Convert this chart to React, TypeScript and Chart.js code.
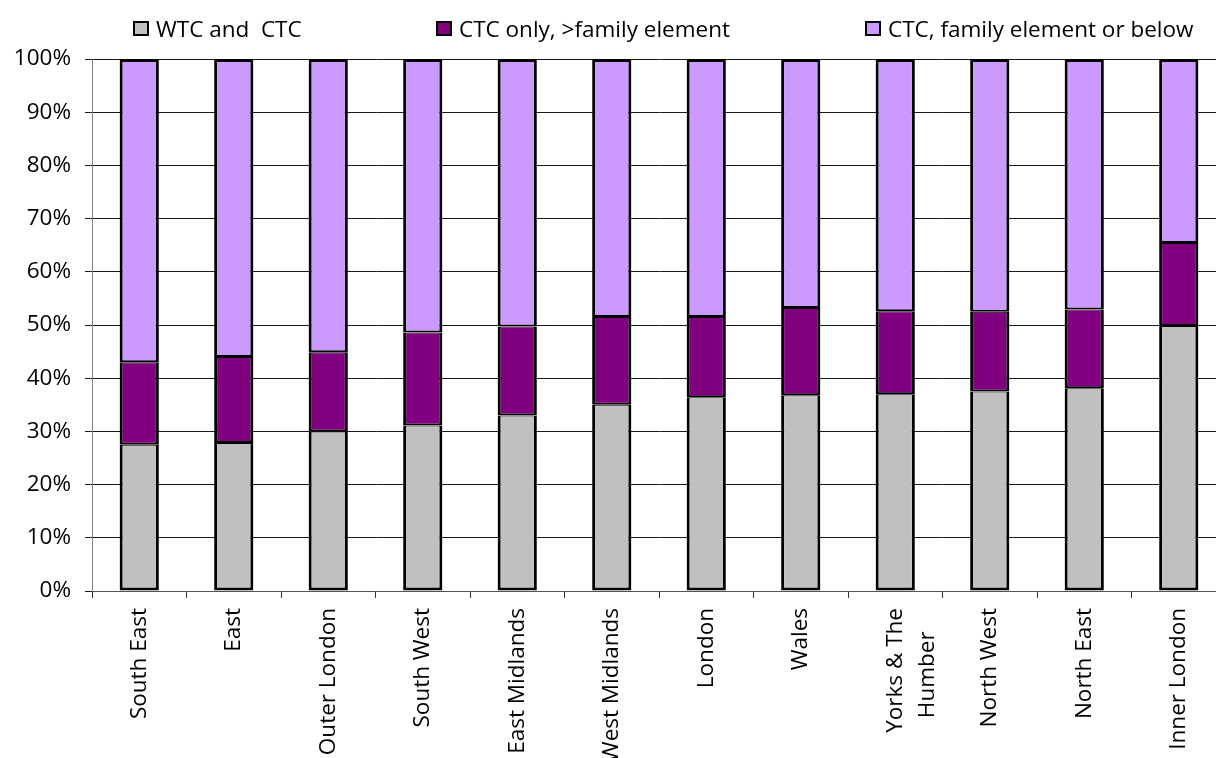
import { useEffect, useRef } from 'react';
import { Chart, registerables } from 'chart.js';

Chart.register(...registerables);

// Regions, ordered by share of families on WTC and CTC
const REGIONS: (string | string[])[] = [
  'South East',
  'East',
  'Outer London',
  'South West',
  'East Midlands',
  'West Midlands',
  'London',
  'Wales',
  ['Yorks & The', 'Humber    '],
  'North West',
  'North East',
  'Inner London',
];

// Shares of families (%)
const WTC_AND_CTC = [27.5, 27.8, 30.0, 31.1, 33.0, 35.0, 36.4, 36.8, 37.0, 37.5, 38.1, 49.8];
const CTC_ONLY_ABOVE_FAMILY = [15.5, 16.2, 14.9, 17.5, 16.7, 16.5, 15.1, 16.4, 15.6, 15.0, 14.8, 15.6];
const CTC_FAMILY_OR_BELOW = [57.0, 56.0, 55.1, 51.4, 50.3, 48.5, 48.5, 46.8, 47.4, 47.5, 47.1, 34.6];

const SERIES_NAMES = ['WTC and  CTC', 'CTC only, >family element', 'CTC, family element or below'];
const SERIES_COLORS = ['#C0C0C0', '#800080', '#CC99FF'];

const Y_MAX = 100;
const Y_STEP = 10;

// Layout
const CANVAS_W = 1240;
const CANVAS_H = 758;
const PLOT_LEFT = 92;
const PLOT_TOP = 59;
const PLOT_BOTTOM = 591;
const PLOT_RIGHT = 1226;
const LEGEND_X = [133, 436, 865];
const FONT_FAMILY = '"Open Sans", "DejaVu Sans", sans-serif';
const FONT_SIZE = 22.5;

const spacedLegend = {
  id: 'spacedLegend',
  afterDraw(chart: any) {
    const ctx = chart.ctx as CanvasRenderingContext2D;
    ctx.save();
    ctx.font = `${FONT_SIZE}px ${FONT_FAMILY}`;
    ctx.textBaseline = 'alphabetic';
    ctx.textAlign = 'left';
    chart.data.datasets.forEach((ds: any, i: number) => {
      const x = LEGEND_X[i];
      const y = 21;
      ctx.fillStyle = ds.backgroundColor;
      ctx.fillRect(x, y, 16, 15);
      ctx.strokeStyle = '#000';
      ctx.lineWidth = 2;
      ctx.strokeRect(x + 1, y + 1, 14, 13);
      ctx.fillStyle = '#000';
      ctx.fillText(ds.label, x + 23, 37);
    });
    ctx.restore();
  },
};

// Outline each stacked segment so that shared edges read as one thick line
function borderFor(i: number, n: number) {
  const outer = 3;
  return {
    left: outer,
    right: outer,
    top: i === n - 1 ? outer : 1,
    bottom: i === 0 ? outer : 2,
  };
}

export default function App() {
  const canvasRef = useRef<HTMLCanvasElement | null>(null);

  useEffect(() => {
    if (!canvasRef.current) return;
    const values = [WTC_AND_CTC, CTC_ONLY_ABOVE_FAMILY, CTC_FAMILY_OR_BELOW];
    const chart = new Chart(canvasRef.current, {
      type: 'bar',
      data: {
        labels: REGIONS,
        datasets: values.map((v, i) => ({
          label: SERIES_NAMES[i],
          data: v,
          backgroundColor: SERIES_COLORS[i],
          borderColor: '#000',
          borderWidth: borderFor(i, values.length),
          borderSkipped: false,
          inflateAmount: 0,
          barPercentage: 1,
          categoryPercentage: 0.415,
        })),
      },
      options: {
        responsive: false,
        animation: false,
        devicePixelRatio: 1,
        layout: {
          padding: { top: PLOT_TOP, left: 0, right: CANVAS_W - PLOT_RIGHT, bottom: 0 },
        },
        plugins: {
          legend: { display: false },
          tooltip: { enabled: false },
        },
        scales: {
          x: {
            stacked: true,
            afterFit(scale: any) {
              scale.height = CANVAS_H - PLOT_BOTTOM;
            },
            grid: {
              display: true,
              drawOnChartArea: false,
              drawTicks: true,
              tickLength: 7,
              color: '#333',
              offset: true,
            },
            border: { display: true, color: '#555', width: 1 },
            ticks: {
              autoSkip: false,
              minRotation: 90,
              maxRotation: 90,
              padding: 10,
              color: '#000',
              font: { family: FONT_FAMILY, size: FONT_SIZE, lineHeight: 1.45 },
            },
          },
          y: {
            stacked: true,
            min: 0,
            max: Y_MAX,
            afterFit(scale: any) {
              scale.width = PLOT_LEFT;
            },
            grid: {
              color: '#1a1a1a',
              lineWidth: 1,
              tickLength: 7,
              drawTicks: true,
            },
            border: { display: true, color: '#808080', width: 1 },
            ticks: {
              stepSize: Y_STEP,
              padding: 14,
              color: '#000',
              font: { family: FONT_FAMILY, size: FONT_SIZE },
              callback: (v: any) => `${v}%`,
            },
          },
        },
      },
      plugins: [spacedLegend],
    });
    return () => chart.destroy();
  }, []);

  return (
    <div
      style={{
        position: 'fixed',
        left: 0,
        top: 0,
        width: 1216,
        height: 758,
        overflow: 'hidden',
        background: '#fff',
      }}
    >
      <canvas
        ref={canvasRef}
        width={CANVAS_W}
        height={CANVAS_H}
        style={{ width: CANVAS_W, height: CANVAS_H, display: 'block' }}
      />
    </div>
  );
}
